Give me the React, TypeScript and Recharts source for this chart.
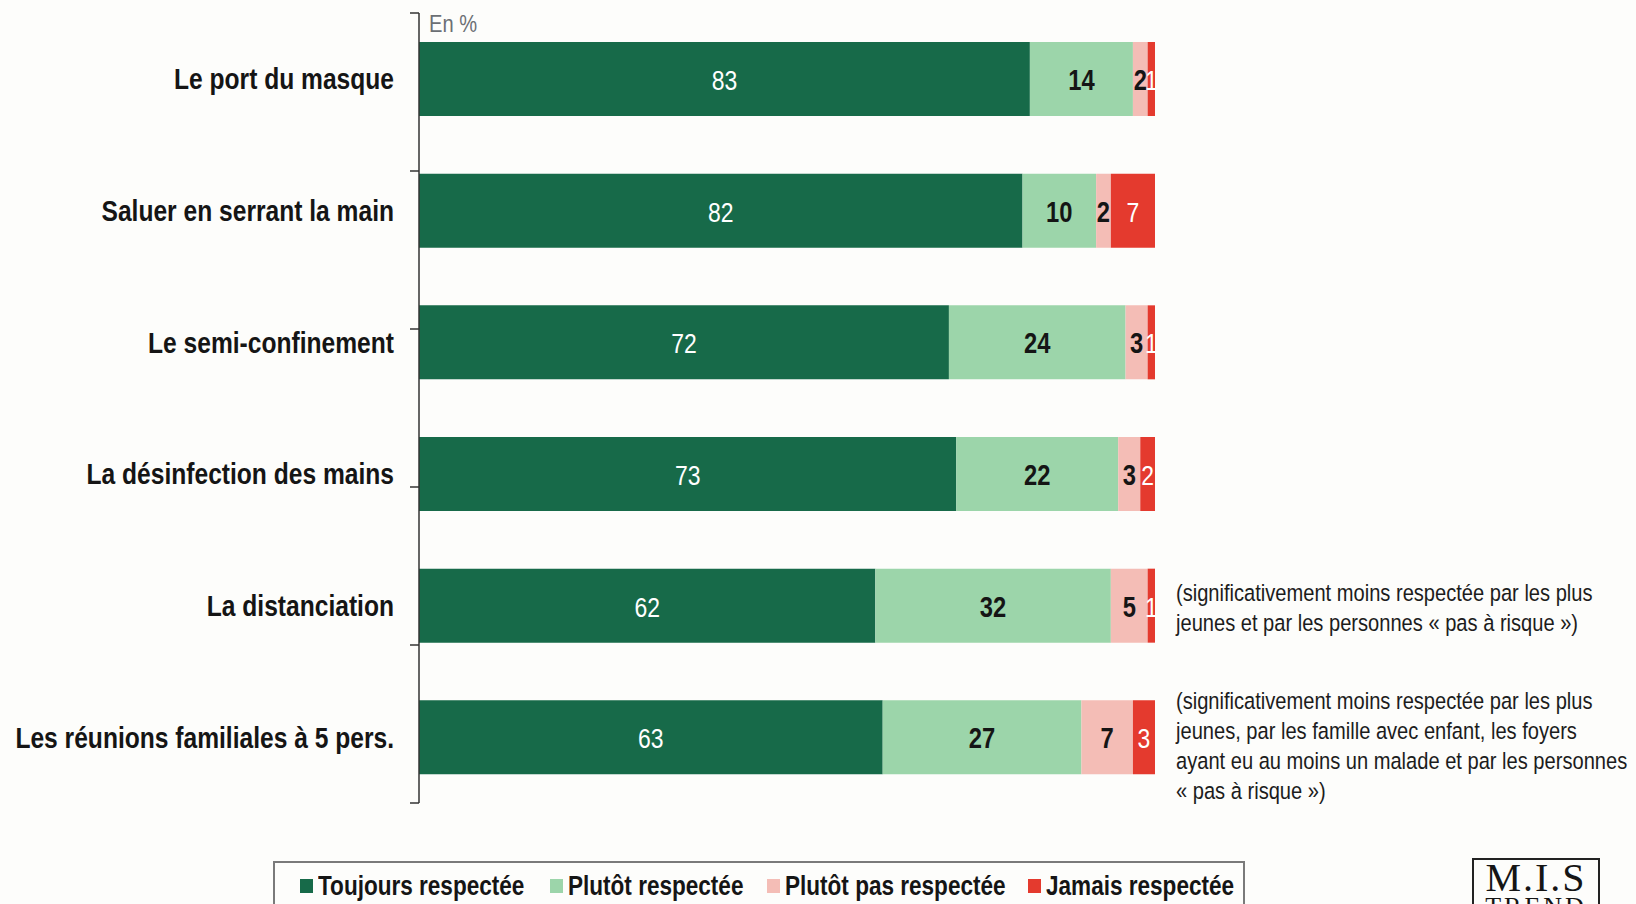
import { BarChart, Bar, XAxis, YAxis, LabelList, Legend } from "recharts";

const categories = [
    "Le port du masque",
    "Saluer en serrant la main",
    "Le semi-confinement",
    "La désinfection des mains",
    "La distanciation",
    "Les réunions familiales à 5 pers.",
];
const toujours = [83, 82, 72, 73, 62, 63];
const plutot = [14, 10, 24, 22, 32, 27];
const plutotPas = [2, 2, 3, 3, 5, 7];
const jamais = [1, 7, 1, 2, 1, 3];
const boundaryTicks = [0, 1, 2, 3, 4, 5, 6];

const seriesNames = ["Toujours respectée", "Plutôt respectée", "Plutôt pas respectée", "Jamais respectée"];
const colors = ["#176a49", "#9cd5aa", "#f4bdb6", "#e43a2e"];

const noteDistanciation = [
    "(significativement moins respectée par les plus",
    "jeunes et par les personnes « pas à risque »)",
];
const noteReunions = [
    "(significativement moins respectée par les plus",
    "jeunes, par les famille avec enfant, les foyers",
    "ayant eu au moins un malade et par les personnes",
    "« pas à risque »)",
];

const data = categories.map((name, i) => ({
    name,
    toujours: toujours[i],
    plutot: plutot[i],
    plutotPas: plutotPas[i],
    jamais: jamais[i],
}));

// Arial Narrow look: Liberation Sans squeezed horizontally
const FONT = '"Liberation Sans", Arial, sans-serif';
const SQUEEZE = 0.82;

const narrowHtml = {
    fontFamily: FONT,
    whiteSpace: "nowrap" as const,
    transform: `scaleX(${SQUEEZE})`,
    transformOrigin: "left top",
};

const CategoryTick = ({ x, y, payload }: any) => (
    <text
        transform={`translate(${x},${y}) scale(${SQUEEZE},1)`}
        textAnchor="end"
        dominantBaseline="central"
        fill="#151515"
        fontSize={30}
        fontWeight={700}
        fontFamily={FONT}
    >
        {payload.value}
    </text>
);

const makeLabel = (fill: string, bold: boolean, size: number) => (props: any) => {
    const { x, y, width, height, value } = props;
    const cx = Number(x) + Number(width) / 2;
    const cy = Number(y) + Number(height) / 2;
    return (
        <text
            transform={`translate(${cx},${cy + 1}) scale(${SQUEEZE},1)`}
            textAnchor="middle"
            dominantBaseline="central"
            fill={fill}
            fontSize={size}
            fontWeight={bold ? 700 : 400}
            fontFamily={FONT}
        >
            {value}
        </text>
    );
};

const legendSquareX = [25, 275, 492, 753];

const LegendBox = () => (
    <div
        style={{
            position: "relative",
            width: 972,
            height: 70,
            border: "2px solid #7a7a7a",
            boxSizing: "border-box",
        }}
    >
        {seriesNames.map((n, i) => (
            <div key={n}>
                <span
                    style={{
                        position: "absolute",
                        left: legendSquareX[i],
                        top: 16,
                        width: 13,
                        height: 14,
                        background: colors[i],
                    }}
                />
                <span
                    style={{
                        ...narrowHtml,
                        position: "absolute",
                        left: legendSquareX[i] + 18,
                        top: 7,
                        fontSize: 27.5,
                        fontWeight: 700,
                        color: "#151515",
                        lineHeight: "32px",
                    }}
                >
                    {n}
                </span>
            </div>
        ))}
    </div>
);

const Note = ({ lines, top }: { lines: string[]; top: number }) => (
    <div
        style={{
            ...narrowHtml,
            position: "absolute",
            left: 1176,
            top,
            fontSize: 24.5,
            lineHeight: "30px",
            color: "#1c1c1c",
        }}
    >
        {lines.map((l) => (
            <div key={l}>{l}</div>
        ))}
    </div>
);

export default function App() {
    return (
        <div style={{ position: "absolute", left: 0, top: 0, width: 1636, height: 904, background: "#fdfdfb", overflow: "hidden" }}>
            <BarChart
                width={1636}
                height={904}
                data={data}
                layout="vertical"
                margin={{ top: 13, right: 481, bottom: 101, left: 0 }}
                barSize={74}
            >
                <XAxis type="number" domain={[0, 100]} allowDataOverflow hide />
                <YAxis
                    yAxisId="b"
                    type="category"
                    dataKey="name"
                    width={418}
                    axisLine={false}
                    tickLine={false}
                    tickSize={0}
                    tickMargin={24}
                    tick={<CategoryTick />}
                />
                <YAxis
                    yAxisId="a"
                    type="number"
                    domain={[0, 6]}
                    ticks={boundaryTicks}
                    width={1}
                    tick={() => <g />}
                    tickSize={9}
                    tickLine={{ stroke: "#333", strokeWidth: 1.5 }}
                    axisLine={{ stroke: "#333", strokeWidth: 1.5 }}
                />
                <Legend
                    layout="vertical"
                    align="center"
                    verticalAlign="middle"
                    content={<LegendBox />}
                    wrapperStyle={{ left: 273, top: 861, width: 972 }}
                />
                <Bar yAxisId="b" dataKey="toujours" stackId="s" fill={colors[0]} isAnimationActive={false}>
                    <LabelList dataKey="toujours" content={makeLabel("#ffffff", false, 28)} />
                </Bar>
                <Bar yAxisId="b" dataKey="plutot" stackId="s" fill={colors[1]} isAnimationActive={false}>
                    <LabelList dataKey="plutot" content={makeLabel("#151515", true, 29)} />
                </Bar>
                <Bar yAxisId="b" dataKey="plutotPas" stackId="s" fill={colors[2]} isAnimationActive={false}>
                    <LabelList dataKey="plutotPas" content={makeLabel("#151515", true, 29)} />
                </Bar>
                <Bar yAxisId="b" dataKey="jamais" stackId="s" fill={colors[3]} isAnimationActive={false}>
                    <LabelList dataKey="jamais" content={makeLabel("#ffffff", false, 28)} />
                </Bar>
            </BarChart>

            <div style={{ ...narrowHtml, position: "absolute", left: 429, top: 10, fontSize: 24.5, color: "#6b6f74" }}>En %</div>

            <Note lines={noteDistanciation} top={578} />
            <Note lines={noteReunions} top={686} />

            <div
                style={{
                    position: "absolute",
                    left: 1472,
                    top: 858,
                    width: 128,
                    height: 70,
                    border: "2px solid #222",
                    boxSizing: "border-box",
                    fontFamily: '"Liberation Serif", "DejaVu Serif", serif',
                    textAlign: "center",
                    color: "#151515",
                }}
            >
                <div style={{ fontSize: 40, letterSpacing: 2, lineHeight: "36px" }}>M.I.S</div>
                <div style={{ fontSize: 26, letterSpacing: 3, lineHeight: "22px" }}>TREND</div>
            </div>
        </div>
    );
}
